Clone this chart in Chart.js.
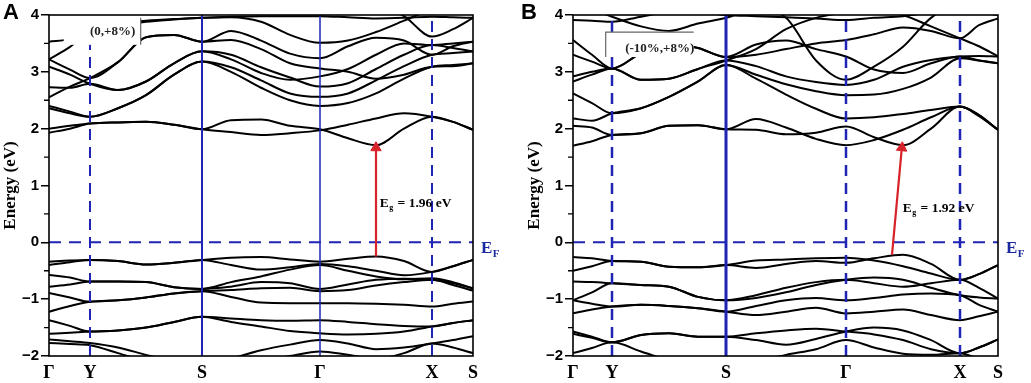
<!DOCTYPE html>
<html><head><meta charset="utf-8">
<script src="https://cdn.jsdelivr.net/npm/chart.js@4.4.1/dist/chart.umd.min.js"></script>
<style>
html,body{margin:0;padding:0;background:#fff;}
#wrap{position:relative;width:1031px;height:383px;overflow:hidden;}
#ca{position:absolute;left:0;top:0;}
#cb{position:absolute;left:515px;top:0;}
</style></head><body>
<div id="wrap"><canvas id="ca" width="515" height="383"></canvas><canvas id="cb" width="516" height="383"></canvas></div>
<script>
// ---------- data ----------
const kLabels = ['Γ','Y','S','Γ','X','S'];
const kA   = [0,21,41,69,97,125,153,182,212,241,271,299,327,355,383,404,424];
const kptA = [0,41,153,271,383,424];
const kB   = [0,19,39,68,96,125,153,183,213,243,273,301,330,358,387,406,425];
const kptB = [0,39,153,273,387,425];
const energyTicks = [-2,-1,0,1,2,3,4];

const condA = [
 [1.93,2.00,2.09,2.11,2.12,2.07,1.99,2.15,2.16,2.05,1.99,1.83,1.71,2.00,2.21,2.12,1.98],
 [2.00,2.05,2.09,2.11,2.12,2.07,1.99,1.94,1.89,1.92,1.97,2.07,2.18,2.27,2.21,2.12,1.98],
 [2.40,2.30,2.21,2.36,2.59,2.95,3.18,3.08,2.85,2.62,2.56,2.62,2.85,3.10,3.30,3.33,3.36],
 [2.36,2.27,2.21,2.36,2.59,2.95,3.18,3.00,2.72,2.50,2.40,2.45,2.62,2.88,3.09,3.12,3.15],
 [2.55,2.74,2.89,3.17,3.61,3.65,3.53,3.72,3.55,3.32,3.24,3.45,3.60,3.55,3.30,3.45,3.53],
 [2.73,2.72,2.79,2.68,2.83,3.15,3.36,3.30,3.08,2.90,2.74,2.80,3.05,3.30,3.47,3.42,3.36],
 [3.09,2.95,2.79,2.68,2.83,3.15,3.36,3.22,2.98,2.86,2.92,3.05,3.30,3.50,3.47,3.50,3.53],
 [3.22,3.04,2.89,3.17,3.61,3.65,3.53,3.56,3.40,3.15,3.06,3.00,2.88,2.95,3.09,3.10,3.15],
 [3.22,3.44,3.70,3.80,3.88,3.92,3.95,3.96,3.88,3.65,3.51,3.55,3.70,3.90,4.10,4.20,4.20],
 [3.53,3.58,3.75,3.85,3.90,3.93,3.95,3.97,3.98,3.98,3.98,3.96,3.94,3.95,3.97,3.96,3.95],
 [4.40,4.40,4.40,4.40,4.40,4.40,4.40,4.40,4.40,4.40,4.40,4.35,4.20,3.98,3.62,3.75,3.95]
];
const valA = [
 [-0.34,-0.32,-0.31,-0.33,-0.39,-0.36,-0.31,-0.27,-0.26,-0.30,-0.34,-0.29,-0.25,-0.33,-0.52,-0.42,-0.31],
 [-0.40,-0.35,-0.31,-0.33,-0.39,-0.36,-0.31,-0.40,-0.48,-0.44,-0.38,-0.42,-0.50,-0.58,-0.52,-0.42,-0.31],
 [-0.575,-0.62,-0.69,-0.69,-0.70,-0.79,-0.82,-0.70,-0.60,-0.48,-0.40,-0.50,-0.60,-0.65,-0.63,-0.70,-0.81],
 [-0.78,-0.74,-0.69,-0.69,-0.70,-0.79,-0.82,-0.78,-0.70,-0.72,-0.82,-0.74,-0.66,-0.64,-0.66,-0.72,-0.81],
 [-0.89,-0.97,-1.045,-1.02,-0.97,-0.90,-0.86,-0.84,-0.81,-0.80,-0.86,-0.84,-0.76,-0.70,-0.66,-0.75,-0.85],
 [-1.22,-1.12,-1.045,-1.02,-0.97,-0.90,-0.86,-0.96,-1.06,-1.07,-1.07,-1.07,-1.08,-1.10,-1.13,-1.08,-1.04],
 [-1.37,-1.47,-1.57,-1.55,-1.50,-1.40,-1.31,-1.34,-1.37,-1.38,-1.37,-1.40,-1.44,-1.47,-1.48,-1.42,-1.37],
 [-1.61,-1.59,-1.57,-1.55,-1.50,-1.40,-1.31,-1.40,-1.48,-1.56,-1.60,-1.62,-1.61,-1.57,-1.48,-1.42,-1.37],
 [-1.71,-1.74,-1.77,-1.85,-1.98,-2.10,-2.20,-2.05,-1.90,-1.80,-1.72,-1.78,-1.88,-1.85,-1.78,-1.72,-1.65],
 [-1.77,-1.79,-1.81,-1.95,-2.10,-2.20,-2.25,-2.20,-2.10,-2.00,-1.92,-1.98,-2.05,-1.95,-1.78,-1.85,-1.95]
];
const condB = [
 [1.70,1.78,1.89,1.92,2.05,2.06,1.99,1.98,1.90,1.93,2.04,1.85,1.71,2.00,2.39,2.24,1.98],
 [2.05,2.02,1.89,1.92,2.05,2.06,1.99,2.17,2.02,1.82,1.71,1.80,1.98,2.20,2.39,2.24,1.98],
 [2.18,2.14,2.27,2.36,2.56,2.83,3.12,2.95,2.78,2.66,2.59,2.60,2.70,2.90,3.24,3.20,3.15],
 [2.62,2.45,2.27,2.36,2.56,2.83,3.12,2.88,2.60,2.35,2.18,2.20,2.26,2.33,2.39,2.22,1.98],
 [2.83,2.95,3.06,2.86,2.88,3.05,3.20,3.10,2.92,2.82,2.77,2.86,3.09,3.21,3.27,3.28,3.27],
 [2.92,3.00,3.06,2.86,2.88,3.05,3.20,3.40,3.75,3.95,4.05,4.10,4.00,3.80,3.59,3.45,3.27],
 [3.30,3.18,3.06,3.33,3.50,3.42,3.26,3.48,3.55,3.40,3.27,3.04,2.98,3.15,3.27,3.20,3.15],
 [3.56,3.30,3.06,3.33,3.50,3.42,3.26,3.30,3.40,3.50,3.56,3.66,3.78,3.72,3.59,3.82,3.94],
 [3.91,3.90,3.88,3.97,4.05,4.05,4.00,3.98,3.96,3.94,3.91,3.95,3.98,4.05,4.10,4.05,4.00],
 [4.20,4.10,3.97,3.80,3.72,3.85,3.95,4.10,3.95,3.20,2.86,3.09,3.44,3.95,4.20,4.20,4.20]
];
const valB = [
 [-0.26,-0.28,-0.33,-0.34,-0.43,-0.44,-0.40,-0.32,-0.30,-0.28,-0.27,-0.32,-0.42,-0.55,-0.66,-0.56,-0.40],
 [-0.50,-0.42,-0.33,-0.34,-0.43,-0.44,-0.40,-0.45,-0.38,-0.33,-0.36,-0.28,-0.22,-0.38,-0.66,-0.56,-0.40],
 [-0.69,-0.70,-0.72,-0.75,-0.78,-0.96,-1.02,-0.93,-0.80,-0.70,-0.66,-0.72,-0.78,-0.72,-0.66,-0.80,-0.99],
 [-1.02,-0.88,-0.72,-0.75,-0.78,-0.96,-1.02,-0.98,-0.88,-0.75,-0.66,-0.62,-0.66,-0.80,-0.93,-0.97,-0.99],
 [-1.02,-1.08,-1.13,-1.10,-1.12,-1.16,-1.22,-1.12,-1.02,-0.98,-1.02,-0.98,-0.92,-0.90,-0.93,-1.10,-1.22],
 [-1.25,-1.18,-1.13,-1.10,-1.12,-1.16,-1.22,-1.28,-1.22,-1.15,-1.25,-1.22,-1.18,-1.28,-1.37,-1.30,-1.22],
 [-1.57,-1.66,-1.76,-1.63,-1.60,-1.66,-1.66,-1.60,-1.55,-1.52,-1.57,-1.62,-1.72,-1.88,-1.95,-1.85,-1.71],
 [-1.61,-1.68,-1.76,-1.63,-1.60,-1.66,-1.66,-1.72,-1.80,-1.70,-1.57,-1.50,-1.55,-1.72,-1.95,-1.85,-1.71],
 [-1.95,-1.86,-1.76,-1.92,-2.08,-2.20,-2.20,-2.10,-1.98,-1.88,-1.72,-1.85,-1.96,-1.98,-1.95,-2.05,-2.10]
];
// gap arrows: [k_start, k_end], [E_start, E_end]
const arrowAk = [327, 327],     arrowAe = [-0.25, 1.665];
const arrowBk = [319, 328.85],  arrowBe = [-0.22, 1.665];
const gapA = '1.96', gapB = '1.92';
const insetTextA = '(0,+8%)', insetTextB = '(-10%,+8%)';
// inset boxes [k0,k1,E_top,E_bottom]; gap label anchor [k,E]
const insetBoxA = [14.7, 91.7, 3.95, 3.475], insetBoxB = [32.7, 120.7, 3.70, 3.26];
const egPosA = [330.7, 0.69], egPosB = [329.7, 0.60];

// ---------- builders ----------
const BLUE = '#1f24b4';
function bandSets(k, bands){
  return bands.map(b => ({
    data: k.map((x,i)=>({x, y:b[i]})),
    borderColor:'#000', borderWidth:2, pointRadius:0,
    cubicInterpolationMode:'monotone', fill:false, order:3
  }));
}
function guideSets(kpt, kmax, styles){
  const sets = [];
  styles.forEach((st,i)=>{
    const kv = kpt[i+1];
    sets.push({data:[{x:kv,y:-2},{x:kv,y:4}], borderColor:BLUE, borderWidth:st.w,
      borderDash: st.dash ? [11,7] : [], pointRadius:0, tension:0, order:1});
  });
  sets.push({data:[{x:0,y:0},{x:kmax,y:0}], borderColor:BLUE, borderWidth:2,
    borderDash:[12,8], pointRadius:0, tension:0, order:1});
  return sets;
}
function arrowSet(ks, es, rot){
  return {data: ks.map((k,i)=>({x:k,y:es[i]})), borderColor:'#d8232a', backgroundColor:'#d8232a',
    borderWidth:2.2, pointRadius:[0,6], pointHoverRadius:0, pointStyle:'triangle', pointRotation:rot,
    pointBorderWidth:1, tension:0, order:0};
}
function subText(ctx, x, y, main, sub, rest, size, color){
  ctx.fillStyle=color; ctx.textAlign='left'; ctx.textBaseline='middle';
  ctx.font='bold '+size+'px "Liberation Serif"';
  ctx.fillText(main,x,y); const w=ctx.measureText(main).width;
  ctx.font='bold '+Math.round(size*0.62)+'px "Liberation Serif"';
  ctx.fillText(sub,x+w+0.5,y+size*0.32); const w2=ctx.measureText(sub).width;
  if(rest){ ctx.font='bold '+size+'px "Liberation Serif"'; ctx.fillText(rest,x+w+w2+1.5,y); }
}
function decor(o){
  return {id:'decor', afterDraw(chart){
    const {ctx, chartArea:a, scales:{x,y}} = chart;
    ctx.save();
    // inset label box
    const b=o.box, x0=x.getPixelForValue(b[0]), x1=x.getPixelForValue(b[1]),
          y0=y.getPixelForValue(b[2]), y1=y.getPixelForValue(b[3]);
    ctx.fillStyle='#fff'; ctx.fillRect(x0,y0,x1-x0,y1-y0);
    ctx.strokeStyle='#666'; ctx.lineWidth=1.2; ctx.beginPath();
    if(o.boxEdges==='right'){ ctx.moveTo(x1,y0); ctx.lineTo(x1,y1); }
    else { ctx.moveTo(x1,y0); ctx.lineTo(x0,y0); ctx.lineTo(x0,y1); }
    ctx.stroke();
    ctx.fillStyle='#222'; ctx.font='bold 13px "Liberation Serif"'; ctx.textAlign='center'; ctx.textBaseline='middle';
    ctx.fillText(o.inset, o.insetX(x0,x1), (y0+y1)/2 + o.insetDy);
    // frame
    ctx.strokeStyle='#000'; ctx.lineWidth=1.6;
    ctx.strokeRect(a.left, a.top, a.right-a.left, a.bottom-a.top);
    // minor ticks
    ctx.lineWidth=1.4; ctx.beginPath();
    for(let v=-1.5; v<4; v+=1){ const py=y.getPixelForValue(v); ctx.moveTo(a.left-5,py); ctx.lineTo(a.left,py); }
    ctx.stroke();
    // gap label
    subText(ctx, x.getPixelForValue(o.eg[0]), y.getPixelForValue(o.eg[1]), 'E','g',' = '+o.gap+' eV', 13.5, '#000');
    // Fermi label
    subText(ctx, a.right+8, y.getPixelForValue(0)+6, 'E','F','', 17, '#1b2aa0');
    // panel letter
    ctx.fillStyle='#000'; ctx.font='bold 22px "Liberation Sans"'; ctx.textAlign='left'; ctx.textBaseline='top';
    ctx.fillText(o.letter, o.letterX, 2);
    ctx.restore();
  }};
}
function makeChart(id, o){
  return new Chart(document.getElementById(id), {
    type:'line',
    data:{datasets:[...bandSets(o.k,o.cond), ...bandSets(o.k,o.val), ...guideSets(o.kpt,o.kmax,o.styles), arrowSet(o.ak,o.ae,o.rot)]},
    options:{
      responsive:false, animation:false, events:[],
      layout:{padding:{top:15,right:o.padRight,left:0,bottom:0}},
      plugins:{legend:{display:false}, tooltip:{enabled:false}},
      scales:{
        x:{type:'linear', min:0, max:o.kmax,
          afterBuildTicks:s=>{ s.ticks=o.kpt.map(v=>({value:v})); },
          afterFit:s=>{ s.height=27; },
          grid:{display:false, drawTicks:false}, border:{display:false},
          ticks:{autoSkip:false, maxRotation:0, padding:7, color:'#000',
            font:{family:'Liberation Serif', size:18, weight:'bold'},
            callback:(v,i)=>kLabels[i]}},
        y:{min:-2, max:4,
          afterBuildTicks:s=>{ s.ticks=energyTicks.map(v=>({value:v})); },
          afterFit:s=>{ s.width=o.yw; },
          grid:{drawOnChartArea:false, drawTicks:true, tickLength:8, color:'#000', lineWidth:1.5},
          border:{display:false},
          ticks:{padding:2, color:'#000', font:{family:'Liberation Sans', size:15, weight:'bold'},
            callback:v=> v<0 ? '−'+Math.abs(v) : String(v)},
          title:{display:true, text:'Energy (eV)', color:'#000', padding:{top:o.titlePad,bottom:0},
            font:{family:'Liberation Serif', size:17, weight:'bold'}}}
      }
    },
    plugins:[decor(o)]
  });
}
makeChart('ca', {k:kA, kpt:kptA, kmax:424, cond:condA, val:valA,
  styles:[{dash:true,w:2},{dash:false,w:2},{dash:false,w:1.5},{dash:true,w:2}],
  ak:arrowAk, ae:arrowAe, rot:0, padRight:42, yw:49, titlePad:0,
  box:insetBoxA, boxEdges:'right', inset:insetTextA, insetX:(x0,x1)=>x1-28, insetDy:0,
  eg:egPosA, gap:gapA, letter:'A', letterX:3});
makeChart('cb', {k:kB, kpt:kptB, kmax:425, cond:condB, val:valB,
  styles:[{dash:true,w:2.5},{dash:false,w:3},{dash:true,w:2.5},{dash:true,w:2.5}],
  ak:arrowBk, ae:arrowBe, rot:5.3, padRight:33, yw:58, titlePad:9,
  box:insetBoxB, boxEdges:'topleft', inset:insetTextB, insetX:(x0,x1)=>x0+54, insetDy:4,
  eg:egPosB, gap:gapB, letter:'B', letterX:6});
</script>
</body></html>
